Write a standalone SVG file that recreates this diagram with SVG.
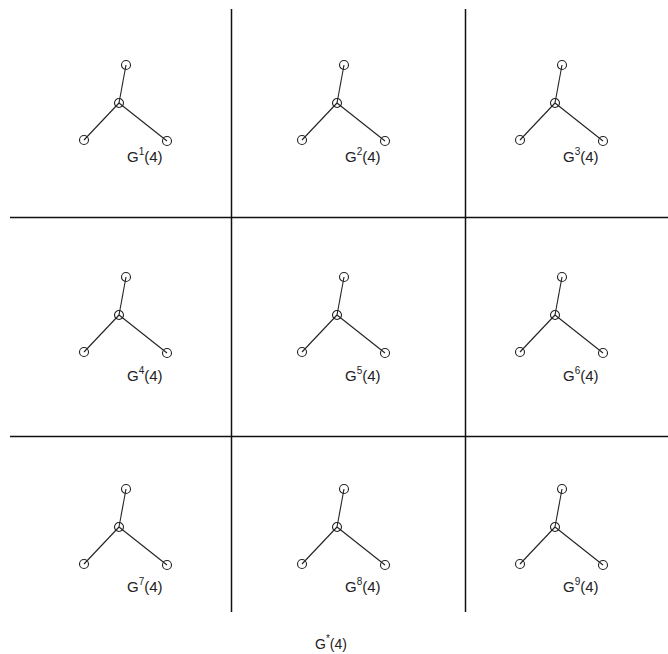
<svg xmlns="http://www.w3.org/2000/svg" width="668" height="654" viewBox="0 0 668 654">
<defs>
<style>
.grid{stroke:#111;stroke-width:1.5;fill:none}
.e{stroke:#222;stroke-width:1.1;fill:none}
.n{stroke:#222;stroke-width:1.1;fill:none}
.lbl{font-family:"Liberation Sans",Arial,sans-serif;font-size:15px;fill:#222}
.sup{font-size:10px}
</style>
<g id="star">
<line class="e" x1="0" y1="0" x2="7" y2="-38"/>
<line class="e" x1="0" y1="0" x2="-35" y2="37"/>
<line class="e" x1="0" y1="0" x2="48" y2="38"/>
<circle class="n" cx="0" cy="0" r="4.5"/>
<circle class="n" cx="7" cy="-38" r="4.5"/>
<circle class="n" cx="-35" cy="37" r="4.5"/>
<circle class="n" cx="48" cy="38" r="4.5"/>
</g>
</defs>
<rect width="668" height="654" fill="#fff"/>
<g id="connectors">
<line class="grid" x1="231.5" y1="9" x2="231.5" y2="612"/>
<line class="grid" x1="465.5" y1="9" x2="465.5" y2="612"/>
<line class="grid" x1="10" y1="217.5" x2="668" y2="217.5"/>
<line class="grid" x1="10" y1="436.5" x2="668" y2="436.5"/>
</g>
<g id="g1"><use href="#star" x="119" y="103"/><text class="lbl" x="127" y="162">G<tspan class="sup" dy="-7">1</tspan><tspan dy="7">(4)</tspan></text></g>
<g id="g2"><use href="#star" x="337" y="103"/><text class="lbl" x="345" y="162">G<tspan class="sup" dy="-7">2</tspan><tspan dy="7">(4)</tspan></text></g>
<g id="g3"><use href="#star" x="555" y="103"/><text class="lbl" x="563" y="162">G<tspan class="sup" dy="-7">3</tspan><tspan dy="7">(4)</tspan></text></g>
<g id="g4"><use href="#star" x="119" y="315"/><text class="lbl" x="127" y="381">G<tspan class="sup" dy="-7">4</tspan><tspan dy="7">(4)</tspan></text></g>
<g id="g5"><use href="#star" x="337" y="315"/><text class="lbl" x="345" y="381">G<tspan class="sup" dy="-7">5</tspan><tspan dy="7">(4)</tspan></text></g>
<g id="g6"><use href="#star" x="555" y="315"/><text class="lbl" x="563" y="381">G<tspan class="sup" dy="-7">6</tspan><tspan dy="7">(4)</tspan></text></g>
<g id="g7"><use href="#star" x="119" y="527"/><text class="lbl" x="127" y="592">G<tspan class="sup" dy="-7">7</tspan><tspan dy="7">(4)</tspan></text></g>
<g id="g8"><use href="#star" x="337" y="527"/><text class="lbl" x="345" y="592">G<tspan class="sup" dy="-7">8</tspan><tspan dy="7">(4)</tspan></text></g>
<g id="g9"><use href="#star" x="555" y="527"/><text class="lbl" x="563" y="592">G<tspan class="sup" dy="-7">9</tspan><tspan dy="7">(4)</tspan></text></g>
<g id="gstar"><text class="lbl" x="315" y="649" style="font-size:14px">G<tspan class="sup" dy="-7">*</tspan><tspan dy="7">(4)</tspan></text></g>
</svg>
